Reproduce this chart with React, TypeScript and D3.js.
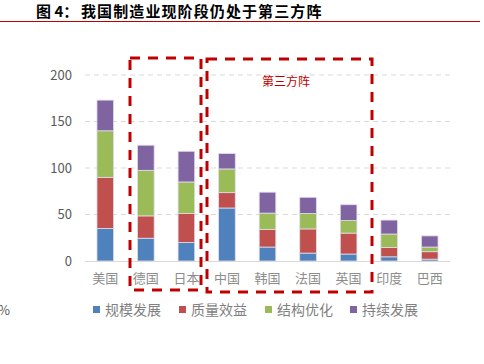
import React from "react";
import * as d3 from "d3";

const categories = ["美国", "德国", "日本", "中国", "韩国", "法国", "英国", "印度", "巴西"];
const seriesNames = ["规模发展", "质量效益", "结构优化", "持续发展"];
const scaleDev = [35, 24.5, 20, 57, 15, 8.5, 7.5, 4.5, 2];
const qualityBenefit = [55, 24, 31, 16.5, 19, 26, 22.5, 10, 8];
const structureOpt = [50, 49, 34, 25.5, 17.5, 16.5, 13.5, 14.5, 5];
const sustainDev = [33, 27, 33, 16.5, 22.5, 17.5, 17, 15, 12];
const yTicks = [0, 50, 100, 150, 200];
const colors = ["#4F81BD", "#C0504D", "#9BBB59", "#8064A2"];

const W = 484;
const H = 364;
const FONT = "'Noto Sans CJK SC', 'Liberation Sans', sans-serif";

export default function App() {
  const x = d3.scaleBand<string>().domain(categories).range([85, 450]).paddingInner(0.59).paddingOuter(0.295);
  const y = d3.scaleLinear().domain([0, 200]).range([261, 75]);
  const rows = categories.map((c, i) => ({
    cat: c,
    s0: scaleDev[i],
    s1: qualityBenefit[i],
    s2: structureOpt[i],
    s3: sustainDev[i],
  }));
  const stack = d3.stack<any>().keys(["s0", "s1", "s2", "s3"])(rows);
  const legendX = [93, 179, 265, 350];

  return (
    <svg width={W} height={H} style={{ position: "absolute", left: 0, top: 0, background: "#fff" }}>
      <text x={36} y={17} fontFamily={FONT} fontWeight="bold" fontSize={15} fill="#000">
        图 4：
      </text>
      <text x={81} y={17} fontFamily={FONT} fontWeight="bold" fontSize={15} letterSpacing={1.1} fill="#000">
        我国制造业现阶段仍处于第三方阵
      </text>
      <line x1={0} x2={480} y1={21.5} y2={21.5} stroke="#C00000" strokeWidth={1} />
      {yTicks.map((t) => (
        <g key={t}>
          {t > 0 && (
            <line x1={85} x2={450} y1={y(t)} y2={y(t)} stroke="#D9D9D9" strokeWidth={1} strokeDasharray="5,4" />
          )}
          <text x={72} y={y(t)} dy="0.35em" textAnchor="end" fontFamily={FONT} fontSize={13} fill="#595959">
            {t}
          </text>
        </g>
      ))}
      {stack.map((layer, li) =>
        layer.map((d, i) => (
          <rect
            key={li + "-" + i}
            x={x(categories[i])}
            width={x.bandwidth()}
            y={y(d[1])}
            height={y(d[0]) - y(d[1])}
            fill={colors[li]}
            stroke="#E0DDEB"
            strokeWidth={0.8}
          />
        ))
      )}
      <line x1={85} x2={450} y1={261.5} y2={261.5} stroke="#D9D9D9" strokeWidth={1} />
      {categories.map((c) => (
        <text
          key={c}
          x={(x(c) as number) + x.bandwidth() / 2}
          y={278}
          dy="0.35em"
          textAnchor="middle"
          fontFamily={FONT}
          fontSize={13}
          fill="#8C8C8C"
        >
          {c}
        </text>
      ))}
      <rect x={130} y={58} width={71} height={232} fill="none" stroke="#C00000" strokeWidth={3} strokeDasharray="10,8" />
      <rect x={207} y={59} width={165} height={233} fill="none" stroke="#C00000" strokeWidth={3} strokeDasharray="10,8" />
      <text x={286} y={82} dy="0.35em" textAnchor="middle" fontFamily={FONT} fontSize={12} fill="#C00000">
        第三方阵
      </text>
      <text x={-2} y={310} dy="0.35em" fontFamily={FONT} fontSize={13} fill="#595959">
        %
      </text>
      {seriesNames.map((s, i) => (
        <g key={s}>
          <rect x={legendX[i]} y={306} width={7} height={7} fill={colors[i]} />
          <text x={legendX[i] + 12} y={310} dy="0.35em" fontFamily={FONT} fontSize={14} fill="#7F7F7F">
            {s}
          </text>
        </g>
      ))}
    </svg>
  );
}
